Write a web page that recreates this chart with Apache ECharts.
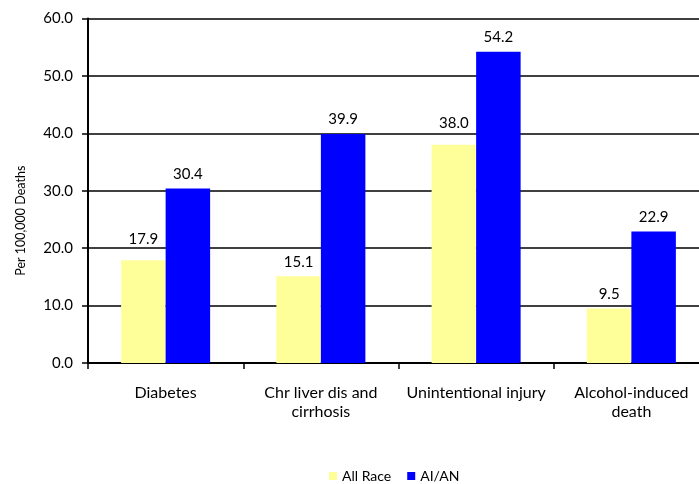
<!DOCTYPE html>
<html>
<head>
<meta charset="utf-8">
<script src="https://cdn.jsdelivr.net/npm/echarts@6/dist/echarts.min.js"></script>
<style>
  html, body { margin: 0; padding: 0; background: #fff; overflow: hidden; }
  #chart { width: 720px; height: 484px; }
</style>
</head>
<body>
<div id="chart"></div>
<script>
const categories = ["Diabetes", "Chr liver dis and\ncirrhosis", "Unintentional injury", "Alcohol-induced\ndeath"];
const allRace = [17.9, 15.1, 38.0, 9.5];
const aian = [30.4, 39.9, 54.2, 22.9];

const font = "Lato, 'Open Sans', sans-serif";

// the plot runs past the right edge of the window in the original,
// so the chart box is a bit wider than the 699px viewport
const chart = echarts.init(document.getElementById("chart"));

const labelStyle = {
    show: true,
    position: "top",
    distance: 7,
    fontFamily: font,
    fontSize: 15,
    color: "#000",
    formatter: p => p.value.toFixed(1)
};

// a couple of the yellow labels sit higher in the original
const raisedLabel = { 0: -7, 2: -7 };

const option = {
    animation: false,
    grid: {
        left: 88,
        top: 18.5,
        width: 621,
        height: 344.5,
        containLabel: false
    },
    legend: {
        bottom: 1,
        left: 329,
        padding: 0,
        itemWidth: 8,
        itemHeight: 8,
        itemGap: 16,
        icon: "rect",
        textStyle: { fontFamily: font, fontSize: 14, color: "#000" },
        data: ["All Race", "AI/AN"]
    },
    xAxis: {
        type: "category",
        data: categories,
        axisLine: { lineStyle: { color: "#000", width: 2 } },
        axisTick: { show: true, length: 6, lineStyle: { color: "#000", width: 1.5 } },
        axisLabel: {
            interval: 0,
            margin: 20,
            fontFamily: font,
            fontSize: 16,
            lineHeight: 19,
            color: "#000"
        }
    },
    yAxis: {
        type: "value",
        min: 0,
        max: 60,
        interval: 10,
        name: "Per 100,000 Deaths",
        nameLocation: "middle",
        nameGap: 61,
        nameTextStyle: { fontFamily: font, fontSize: 12.5, color: "#000", padding: [0, 60, 0, 0] },
        axisLine: { show: true, lineStyle: { color: "#000", width: 2 } },
        axisTick: { show: true, length: 6, lineStyle: { color: "#000", width: 1.5 } },
        splitLine: { lineStyle: { color: "#000", width: 1.5 } },
        axisLabel: {
            margin: 15,
            fontFamily: font,
            fontSize: 15,
            color: "#000",
            formatter: v => v.toFixed(1)
        }
    },
    series: [
        {
            name: "All Race",
            type: "bar",
            data: allRace.map((v, i) => raisedLabel[i]
                ? { value: v, label: { offset: [0, raisedLabel[i]] } }
                : v),
            barWidth: 44.5,
            barGap: "0%",
            itemStyle: { color: "#FFFF99" },
            label: labelStyle
        },
        {
            name: "AI/AN",
            type: "bar",
            data: aian,
            barWidth: 44.5,
            itemStyle: { color: "#0000FF" },
            label: labelStyle
        }
    ]
};

chart.setOption(option);
</script>
</body>
</html>
